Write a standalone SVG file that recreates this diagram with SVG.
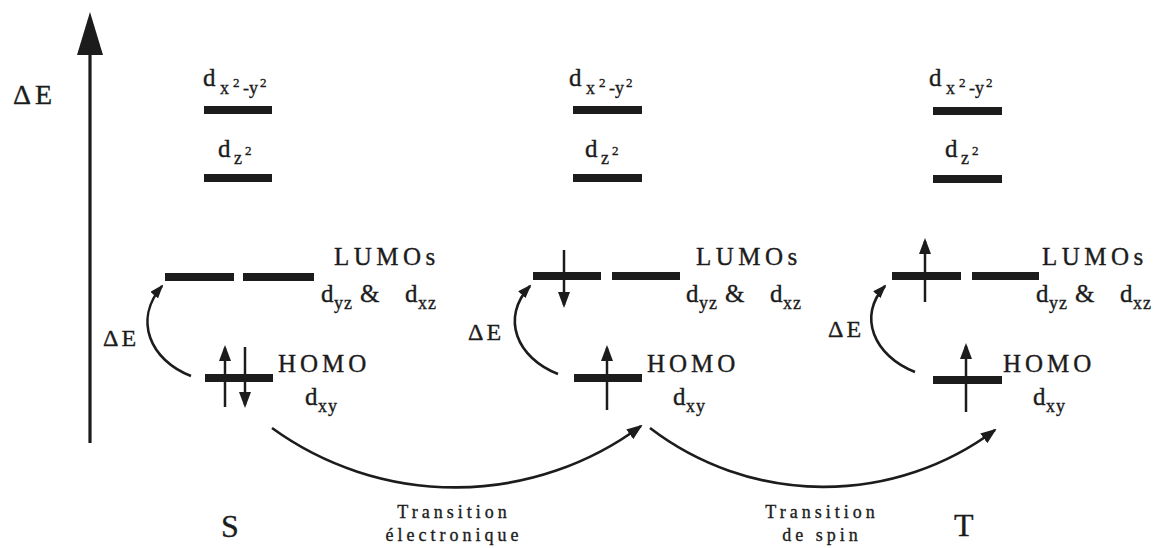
<svg xmlns="http://www.w3.org/2000/svg" width="1160" height="548" viewBox="0 0 1160 548">
<defs>
<style>
text{font-family:"Liberation Serif","Times New Roman",serif;fill:#1c1c1c;stroke:#1c1c1c;stroke-width:0.35px}
.d{font-size:25px}
.sub{font-size:18px;letter-spacing:1px}
.sup{font-size:13px}
.cap{font-size:25px;letter-spacing:4px}
.lu{letter-spacing:4.5px}
.de{font-size:24px;letter-spacing:3px}
.big{font-size:32px}
.tr{font-size:18px;letter-spacing:4px;text-anchor:middle}
.bar{fill:#1c1c1c}
.spin{stroke:#1c1c1c;stroke-width:2.5;fill:none;marker-end:url(#sh)}
.conn{stroke:#1c1c1c;stroke-width:2.6;fill:none}
</style>
<marker id="sh" viewBox="0 0 16 12" refX="13" refY="6" markerWidth="16" markerHeight="12" markerUnits="userSpaceOnUse" orient="auto"><path d="M0,0 L16,6 L0,12 z" fill="#1c1c1c"/></marker>
<marker id="ah" viewBox="0 0 16 12" refX="14" refY="6" markerWidth="16" markerHeight="12" markerUnits="userSpaceOnUse" orient="auto"><path d="M0,0 L16,6 L0,12 z" fill="#1c1c1c"/></marker>
<marker id="ahs" viewBox="0 0 14 10" refX="12" refY="5" markerWidth="14" markerHeight="10" markerUnits="userSpaceOnUse" orient="auto"><path d="M0,0 L14,5 L0,10 z" fill="#1c1c1c"/></marker>
</defs>

<g id="axis">
<line x1="90" y1="443" x2="90" y2="50" stroke="#1c1c1c" stroke-width="3.2"/>
<polygon points="90,12 77,55 103,55" fill="#1c1c1c"/>
<text x="13" y="104" style="font-size:28px;letter-spacing:4px">ΔE</text>
</g>

<!-- Column S -->
<g id="S-dx2y2">
<rect class="bar" x="204" y="106" width="68" height="8"/>
<text><tspan class="d" x="203" y="86">d</tspan><tspan class="sub" x="220" y="94">x</tspan><tspan class="sup" x="233" y="87">2</tspan><tspan class="sub" x="243" y="94">-</tspan><tspan class="sub" x="249" y="94">y</tspan><tspan class="sup" x="260" y="87">2</tspan></text>
</g>
<g id="S-dz2">
<rect class="bar" x="204" y="174" width="68" height="8"/>
<text><tspan class="d" x="218" y="157">d</tspan><tspan class="sub" x="234" y="164">z</tspan><tspan class="sup" x="245" y="155">2</tspan></text>
</g>
<g id="S-LUMO">
<rect class="bar" x="165" y="273" width="69" height="8"/>
<rect class="bar" x="243" y="273" width="71" height="8"/>
<text class="cap lu" x="334" y="265">LUMOs</text>
<text><tspan class="d" x="321" y="302">d</tspan><tspan class="sub" x="334" y="309">yz</tspan><tspan class="d" x="360" y="302">&amp;</tspan><tspan class="d" x="405" y="302">d</tspan><tspan class="sub" x="418" y="309">xz</tspan></text>
</g>
<g id="S-HOMO">
<rect class="bar" x="205" y="374" width="68" height="8"/>
<line class="spin" x1="225" y1="407" x2="225" y2="348"/>
<line class="spin" x1="245" y1="347" x2="245" y2="405"/>
<text class="cap" x="278" y="372">HOMO</text>
<text><tspan class="d" x="305" y="405">d</tspan><tspan class="sub" x="318" y="412">xy</tspan></text>
</g>
<g id="S-dE"><text class="de" x="103" y="346">ΔE</text></g>
<g id="S-label"><text class="big" x="221" y="537">S</text></g>

<!-- Column middle -->
<g id="M-dx2y2">
<rect class="bar" x="573" y="106" width="69" height="8"/>
<text><tspan class="d" x="569" y="86">d</tspan><tspan class="sub" x="586" y="94">x</tspan><tspan class="sup" x="599" y="87">2</tspan><tspan class="sub" x="609" y="94">-</tspan><tspan class="sub" x="615" y="94">y</tspan><tspan class="sup" x="626" y="87">2</tspan></text>
</g>
<g id="M-dz2">
<rect class="bar" x="573" y="174" width="69" height="8"/>
<text><tspan class="d" x="585" y="157">d</tspan><tspan class="sub" x="601" y="164">z</tspan><tspan class="sup" x="612" y="155">2</tspan></text>
</g>
<g id="M-LUMO">
<rect class="bar" x="533" y="272" width="68" height="8"/>
<rect class="bar" x="612" y="272" width="68" height="8"/>
<line class="spin" x1="564" y1="250" x2="564" y2="305"/>
<text class="cap lu" x="696" y="265">LUMOs</text>
<text><tspan class="d" x="686" y="302">d</tspan><tspan class="sub" x="699" y="309">yz</tspan><tspan class="d" x="725" y="302">&amp;</tspan><tspan class="d" x="770" y="302">d</tspan><tspan class="sub" x="783" y="309">xz</tspan></text>
</g>
<g id="M-HOMO">
<rect class="bar" x="574" y="374" width="68" height="8"/>
<line class="spin" x1="607" y1="410" x2="607" y2="348"/>
<text class="cap" x="647" y="372">HOMO</text>
<text><tspan class="d" x="673" y="405">d</tspan><tspan class="sub" x="686" y="412">xy</tspan></text>
</g>
<g id="M-dE"><text class="de" x="468" y="340">ΔE</text></g>

<!-- Column T -->
<g id="T-dx2y2">
<rect class="bar" x="933" y="107" width="69" height="8"/>
<text><tspan class="d" x="929" y="86">d</tspan><tspan class="sub" x="946" y="94">x</tspan><tspan class="sup" x="959" y="87">2</tspan><tspan class="sub" x="969" y="94">-</tspan><tspan class="sub" x="975" y="94">y</tspan><tspan class="sup" x="986" y="87">2</tspan></text>
</g>
<g id="T-dz2">
<rect class="bar" x="933" y="175" width="69" height="8"/>
<text><tspan class="d" x="945" y="157">d</tspan><tspan class="sub" x="961" y="164">z</tspan><tspan class="sup" x="972" y="155">2</tspan></text>
</g>
<g id="T-LUMO">
<rect class="bar" x="892" y="272" width="69" height="8"/>
<rect class="bar" x="972" y="272" width="67" height="8"/>
<line class="spin" x1="925" y1="302" x2="925" y2="241"/>
<text class="cap lu" x="1042" y="265">LUMOs</text>
<text><tspan class="d" x="1036" y="302">d</tspan><tspan class="sub" x="1049" y="309">yz</tspan><tspan class="d" x="1075" y="302">&amp;</tspan><tspan class="d" x="1120" y="302">d</tspan><tspan class="sub" x="1133" y="309">xz</tspan></text>
</g>
<g id="T-HOMO">
<rect class="bar" x="933" y="376" width="69" height="8"/>
<line class="spin" x1="966" y1="412" x2="966" y2="346"/>
<text class="cap" x="1003" y="372">HOMO</text>
<text><tspan class="d" x="1033" y="405">d</tspan><tspan class="sub" x="1046" y="412">xy</tspan></text>
</g>
<g id="T-dE"><text class="de" x="828" y="337">ΔE</text></g>
<g id="T-label"><text class="big" x="954" y="536">T</text></g>

<g id="labels">
<text class="tr" x="454" y="518">Transition</text>
<text class="tr" x="454" y="541">électronique</text>
<text class="tr" x="822" y="518">Transition</text>
<text class="tr" x="822" y="541">de spin</text>
</g>

<g id="connectors">
<path class="conn" marker-end="url(#ahs)" d="M191,376 C150,360 133,320 162,286"/>
<path class="conn" marker-end="url(#ahs)" d="M558,374 C517,358 500,318 530,286"/>
<path class="conn" marker-end="url(#ahs)" d="M915,372 C874,356 857,316 885,286"/>
<path class="conn" marker-end="url(#ah)" d="M272,428 A312,312 0 0 0 641,426"/>
<path class="conn" marker-end="url(#ah)" d="M650,428 A286,286 0 0 0 995,430"/>
</g>
</svg>
